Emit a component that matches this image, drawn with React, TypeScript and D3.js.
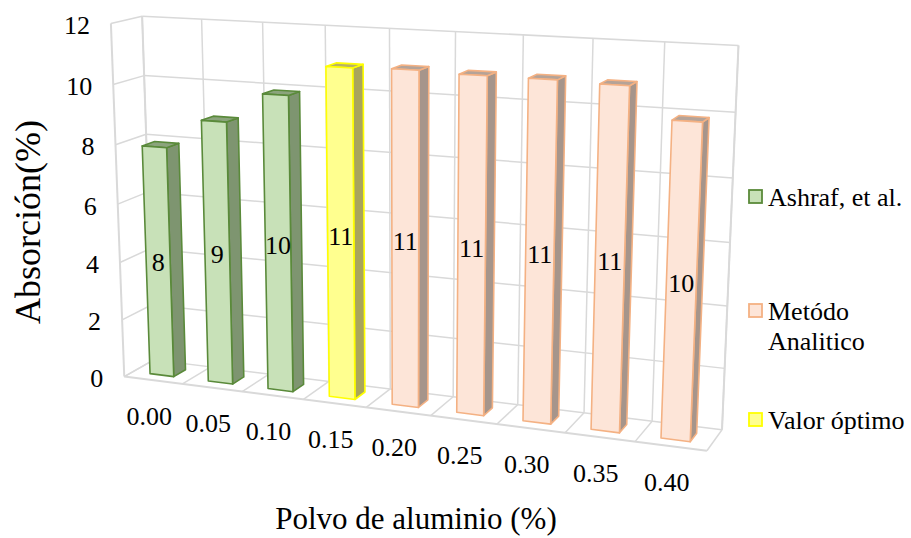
import React from "react";
import * as d3 from "d3";

// ---------- data ----------
const categories = ["0.00", "0.05", "0.10", "0.15", "0.20", "0.25", "0.30", "0.35", "0.40"];
const absorption = [7.9, 8.9, 9.9, 10.9, 10.95, 10.9, 10.9, 10.85, 9.9];
const seriesOfBar = ["ashraf", "ashraf", "ashraf", "optimo", "analitico", "analitico", "analitico", "analitico", "analitico"];
const legendKeys = ["ashraf", "analitico", "optimo"];
const legendLabels = [["Ashraf, et al."], ["Metódo", "Analitico"], ["Valor óptimo"]];
const yTicks = [0, 2, 4, 6, 8, 10, 12];
const xTitle = "Polvo de aluminio (%)";
const yTitle = "Absorción(%)";

// ---------- style ----------
const W = 911, H = 538;
const FONT = "Liberation Serif, Times New Roman, DejaVu Serif, serif";
const GRID = "#d9d9d9";
const STYLES: Record<string, { front: string; side: string; top: string; stroke: string }> = {
  ashraf: { front: "#c8e1b8", side: "#7e9570", top: "#8ba47c", stroke: "#5a8a3a" },
  analitico: { front: "#fde5d8", side: "#a6958b", top: "#b5a398", stroke: "#f4b183" },
  optimo: { front: "#ffff8f", side: "#a9a55c", top: "#b8b366", stroke: "#ffff00" },
};

// Frame calibration: normalized world corner (x, depth, z) -> page position of the plot box
const FRAME_ANCHORS: number[][] = [
  [0, 1, 1, 143, 16],
  [1 / 3, 1, 1, 327, 25],
  [2 / 3, 1, 1, 523, 35],
  [1, 1, 1, 738, 45],
  [0, 1, 0, 152, 362],
  [1, 1, 0, 722, 428],
  [0, 0, 1, 109, 24],
  [0, 0, 0, 126, 374],
  [1, 0, 0, 707, 453],
];

function solveLinear(A: number[][], b: number[]): number[] {
  const n = b.length;
  const M = A.map((row, i) => [...row, b[i]]);
  for (let c = 0; c < n; c++) {
    let piv = c;
    for (let r = c + 1; r < n; r++) if (Math.abs(M[r][c]) > Math.abs(M[piv][c])) piv = r;
    [M[c], M[piv]] = [M[piv], M[c]];
    for (let r = 0; r < n; r++) {
      if (r === c) continue;
      const f = M[r][c] / M[c][c];
      for (let k = c; k <= n; k++) M[r][k] -= f * M[c][k];
    }
  }
  return M.map((row, i) => row[n] / row[i]);
}

function calibrate(anchors: number[][]) {
  const AtA = Array.from({ length: 11 }, () => Array(11).fill(0));
  const Atb = Array(11).fill(0);
  anchors.forEach(([X, Y, Z, u0, v0]) => {
    const u = u0 / 100, v = v0 / 100;
    const rows = [
      [X, Y, Z, 1, 0, 0, 0, 0, -u * X, -u * Y, -u * Z, u],
      [0, 0, 0, 0, X, Y, Z, 1, -v * X, -v * Y, -v * Z, v],
    ];
    rows.forEach((row) => {
      for (let i = 0; i < 11; i++) {
        for (let j = 0; j < 11; j++) AtA[i][j] += row[i] * row[j];
        Atb[i] += row[i] * row[11];
      }
    });
  });
  return solveLinear(AtA, Atb);
}

const P = calibrate(FRAME_ANCHORS);

// world scales
const xBand = d3.scaleBand<string>().domain(categories).range([0, 1]).paddingInner(0.59).paddingOuter(0.295);
const zScale = d3.scaleLinear().domain([0, 12]).range([0, 1]);
const depthBar = [0.295, 0.705];

function proj(x: number, y: number, z: number): [number, number] {
  const w = P[8] * x + P[9] * y + P[10] * z + 1;
  return [
    ((P[0] * x + P[1] * y + P[2] * z + P[3]) / w) * 100,
    ((P[4] * x + P[5] * y + P[6] * z + P[7]) / w) * 100,
  ];
}

const line = d3.line<[number, number]>();
function poly(pts: [number, number, number][]) {
  return line(pts.map((p) => proj(p[0], p[1], p[2])))! + "Z";
}
function seg(a: [number, number, number], b: [number, number, number]) {
  return line([proj(a[0], a[1], a[2]), proj(b[0], b[1], b[2])])!;
}

const textStyle = { fontFamily: FONT };

export default function App() {
  const gridPaths: string[] = [];
  const edgePaths: string[] = [];
  yTicks.forEach((t) => {
    const z = zScale(t);
    gridPaths.push(seg([0, 1, z], [1, 1, z]));
    gridPaths.push(seg([0, 0, z], [0, 1, z]));
  });
  d3.range(categories.length + 1).forEach((i) => {
    const x = i / categories.length;
    gridPaths.push(seg([x, 1, 0], [x, 1, 1]));
    gridPaths.push(seg([x, 0, 0], [x, 1, 0]));
  });
  edgePaths.push(seg([0, 0, 0], [0, 0, 1]));
  edgePaths.push(seg([0, 0, 0], [1, 0, 0]));
  edgePaths.push(seg([0, 1, 0], [0, 1, 1]));
  edgePaths.push(seg([1, 1, 0], [1, 1, 1]));

  const bars = categories.map((c, i) => {
    const x0 = xBand(c)!;
    const x1 = x0 + xBand.bandwidth();
    const [y0, y1] = depthBar;
    const zt = zScale(absorption[i]);
    const st = STYLES[seriesOfBar[i]];
    const labelPos = proj((x0 + x1) / 2, y0, zt / 2);
    return (
      <g key={c}>
        <path d={poly([[x1, y0, 0], [x1, y1, 0], [x1, y1, zt], [x1, y0, zt]])} fill={st.side} stroke={st.stroke} strokeWidth={1.6} strokeLinejoin="round" />
        <path d={poly([[x0, y0, zt], [x1, y0, zt], [x1, y1, zt], [x0, y1, zt]])} fill={st.top} stroke={st.stroke} strokeWidth={1.6} strokeLinejoin="round" />
        <path d={poly([[x0, y0, 0], [x1, y0, 0], [x1, y0, zt], [x0, y0, zt]])} fill={st.front} stroke={st.stroke} strokeWidth={1.6} strokeLinejoin="round" />
        <text x={labelPos[0]} y={labelPos[1]} textAnchor="middle" dominantBaseline="central" fontSize={26} style={textStyle} fill="#000">
          {d3.format(".0f")(absorption[i])}
        </text>
      </g>
    );
  });

  const legendY = [197, 311, 420];

  return (
    <svg width={W} height={H} style={{ position: "absolute", left: 0, top: 0, background: "#fff" }}>
      <rect width={W} height={H} fill="#fff" />
      <g fill="none" stroke={GRID} strokeWidth={1.5}>
        {gridPaths.map((d, i) => <path key={i} d={d} />)}
      </g>
      <g fill="none" stroke={GRID} strokeWidth={2}>
        {edgePaths.map((d, i) => <path key={i} d={d} />)}
      </g>
      {bars}
      {yTicks.map((t) => {
        const p = proj(0, 0, zScale(t));
        return (
          <text key={t} x={p[0] - 21} y={p[1] + 2} textAnchor="end" dominantBaseline="central" fontSize={26} style={textStyle} fill="#000">
            {t}
          </text>
        );
      })}
      {categories.map((c) => {
        const p = proj(xBand(c)! + xBand.bandwidth() / 2, 0, 0);
        return (
          <text key={c} x={p[0] - 4} y={p[1] + 36} textAnchor="middle" dominantBaseline="central" fontSize={26} style={textStyle} fill="#000">
            {c}
          </text>
        );
      })}
      <text x={416} y={518} textAnchor="middle" dominantBaseline="central" fontSize={31} style={textStyle} fill="#000">{xTitle}</text>
      <text transform={`translate(28,222) rotate(-90)`} textAnchor="middle" dominantBaseline="central" fontSize={36} style={textStyle} fill="#000">{yTitle}</text>
      {legendKeys.map((k, i) => {
        const st = STYLES[k];
        return (
          <g key={k}>
            <rect x={749} y={legendY[i] - 7} width={13} height={13} fill={st.front} stroke={st.stroke} strokeWidth={1.8} />
            {legendLabels[i].map((s, j) => (
              <text key={j} x={768} y={legendY[i] + j * 30} dominantBaseline="central" fontSize={26} style={textStyle} fill="#000">{s}</text>
            ))}
          </g>
        );
      })}
    </svg>
  );
}
